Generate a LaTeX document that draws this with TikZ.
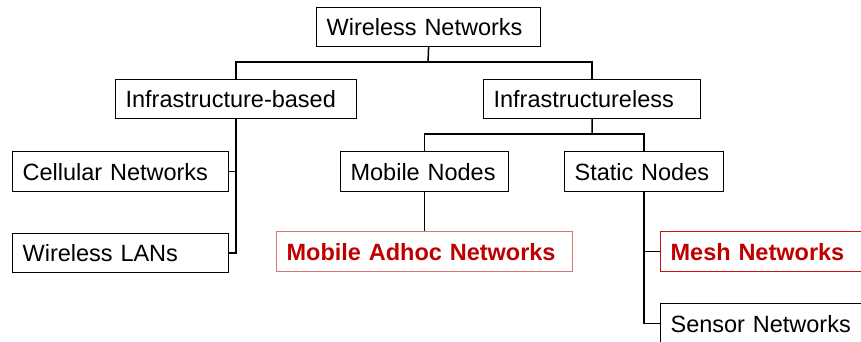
\documentclass[tikz,border=0pt]{standalone}
\usepackage{fontspec}
\setmainfont{Liberation Sans}
\definecolor{myred}{HTML}{C00000}
\definecolor{lightred}{HTML}{D87474}
\definecolor{meshred}{HTML}{CC1010}
\begin{document}
\begin{tikzpicture}[x=1pt,y=-1pt,
  box/.style={draw=black, line width=1.2pt, fill=white, anchor=north west,
    inner xsep=10pt, inner ysep=0pt, align=left,
    font=\fontsize{23.5}{28}\selectfont, minimum height=39pt},
  hot/.style={box, text=myred, font=\fontsize{23.5}{28}\selectfont\bfseries},
  conn/.style={line width=1.5pt}]
\useasboundingbox (0,0) rectangle (861,341);
% nodes
\node[box, text width=204pt] (wn) at (316,7) {Wireless Networks};
\node[box, text width=221pt] (ib) at (115,79) {Infrastructure-based};
\node[box, text width=197pt] (il) at (483,79) {Infrastructureless};
\node[box, text width=196pt, minimum height=40pt] (cell) at (12,151) {Cellular Networks};
\node[box, text width=196pt] (wlan) at (12,233) {Wireless LANs};
\node[box, text width=148pt, minimum height=40pt] (mn) at (340,151) {Mobile Nodes};
\node[box, text width=139pt, minimum height=40pt] (sn) at (564,151) {Static Nodes};
\node[hot, draw=lightred, text width=276pt, minimum height=40pt] (mah) at (276,231) {Mobile Adhoc Networks};
\node[hot, draw=meshred, text width=184pt, minimum height=40pt] (mesh) at (660,231) {Mesh Networks};
\node[box, text width=184pt, minimum height=40pt] (sens) at (660,303) {Sensor Networks};
% connectors
\coordinate (j1) at (428,62);
\coordinate (j2) at (592,134);
\draw[conn] (wn.south) -- (j1);
\draw[conn] (ib.north) |- (j1) -| (il.north);
\draw[conn] (il.south) -- (j2);
\draw[conn] (mn.north) |- (j2) -| (sn.north);
\draw[conn] (ib.south) |- (cell.east);
\draw[conn] (ib.south) |- (wlan.east);
\draw[conn] (mn.south) -- (mah.north);
\draw[conn] (sn.south) |- (mesh.west);
\draw[conn] (sn.south) |- (sens.west);
\end{tikzpicture}
\end{document}
